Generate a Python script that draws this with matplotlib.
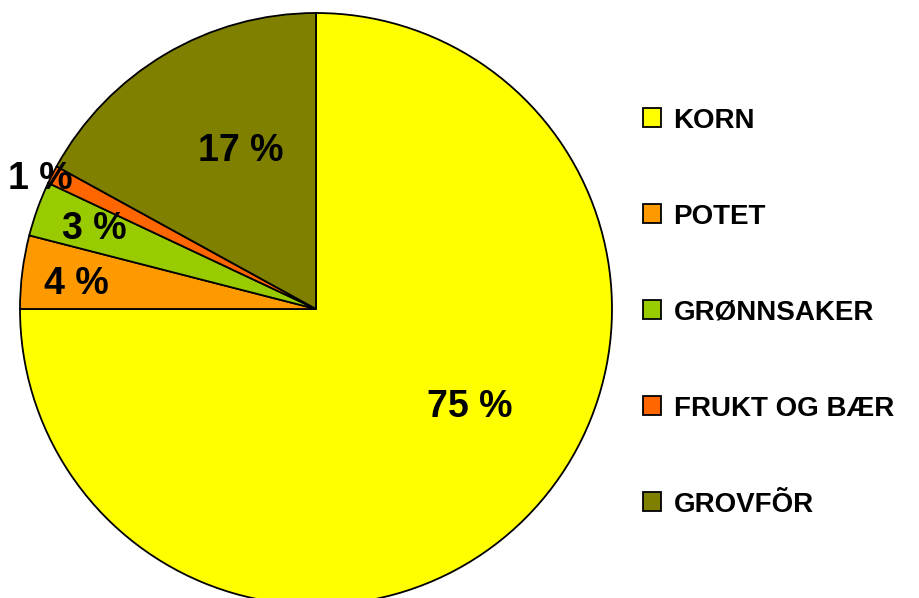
import matplotlib.pyplot as plt
from matplotlib.patches import Patch

# Andel av jordbruksareal
categories = ["KORN", "POTET", "GRØNNSAKER", "FRUKT OG BÆR", "GROVFÕR"]
shares = [75, 4, 3, 1, 17]
pct_labels = ["75 %", "4 %", "3 %", "1 %", "17 %"]
colors = ["#FFFF00", "#FF9900", "#99CC00", "#FF6600", "#808000"]

plt.rcParams["font.family"] = ["Liberation Sans", "DejaVu Sans"]

fig = plt.figure(figsize=(9.19, 5.98), dpi=100)

# pie axes: centre at (316, 309) px, radius 296 px
W, H = 919, 598
cx, cy, r = 316, 309, 296
ax = fig.add_axes([(cx - r) / W, (H - cy - r) / H, 2 * r / W, 2 * r / H])

wedges, _ = ax.pie(shares, colors=colors, startangle=90, counterclock=False,
                   radius=1, center=(0, 0), frame=True,
                   wedgeprops=dict(edgecolor="black", linewidth=1.3))
ax.set_xlim(-1, 1)
ax.set_ylim(-1, 1)
ax.axis("off")

# label placement (axes data coords)
label_pos = [(0.52, -0.33), (-0.81, 0.085), (-0.75, 0.27), (-0.93, 0.44), (-0.255, 0.535)]
for txt, (x, y) in zip(pct_labels, label_pos):
    ax.text(x, y, txt, ha="center", va="center", fontsize=27, fontweight="bold")

handles = [Patch(facecolor=c, edgecolor="black", linewidth=1.3) for c in colors]
fig.legend(handles, categories, loc="center left", bbox_to_anchor=(643 / W, 1 - 312.5 / H),
           frameon=False, borderpad=0, borderaxespad=0,
           handlelength=0.65, handleheight=0.65, handletextpad=0.45,
           labelspacing=2.52, prop=dict(size=20, weight="bold"))

fig.savefig("out.png", dpi=100)
